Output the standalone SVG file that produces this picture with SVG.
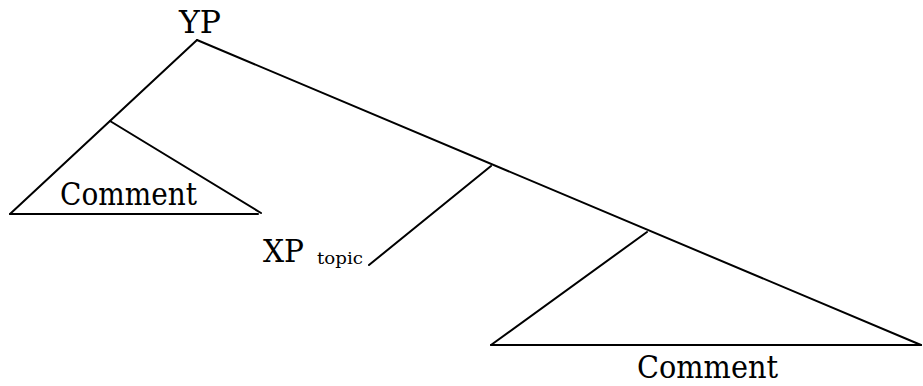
<svg xmlns="http://www.w3.org/2000/svg" width="923" height="386" viewBox="0 0 923 386">
<style>
.t{font-family:"DejaVu Serif","Liberation Serif",serif;fill:#000}
.big{font-size:31px}
.sub{font-size:17px}
.e{stroke:#000;stroke-width:2;fill:none;stroke-linecap:round}
</style>
<rect width="923" height="386" fill="#fff"/>
<g id="connectors">
<line class="e" x1="197" y1="40" x2="10" y2="214"/>
<line class="e" x1="110" y1="121" x2="261" y2="213"/>
<line class="e" x1="10" y1="214" x2="258" y2="214"/>
<line class="e" x1="197" y1="40" x2="921" y2="345"/>
<line class="e" x1="491" y1="166" x2="369" y2="265"/>
<line class="e" x1="647" y1="232" x2="491" y2="345"/>
<line class="e" x1="491" y1="345" x2="921" y2="345"/>
</g>
<g id="yp"><text class="t big" x="179" y="33" textLength="42" lengthAdjust="spacingAndGlyphs">YP</text></g>
<g id="comment1"><text class="t big" x="60" y="205" textLength="137" lengthAdjust="spacingAndGlyphs">Comment</text></g>
<g id="xptopic"><text class="t big" x="263" y="262" textLength="41" lengthAdjust="spacingAndGlyphs">XP</text><text class="t sub" x="317" y="264" textLength="46" lengthAdjust="spacingAndGlyphs">topic</text></g>
<g id="comment2"><text class="t big" x="637" y="378" textLength="141" lengthAdjust="spacingAndGlyphs">Comment</text></g>
</svg>
